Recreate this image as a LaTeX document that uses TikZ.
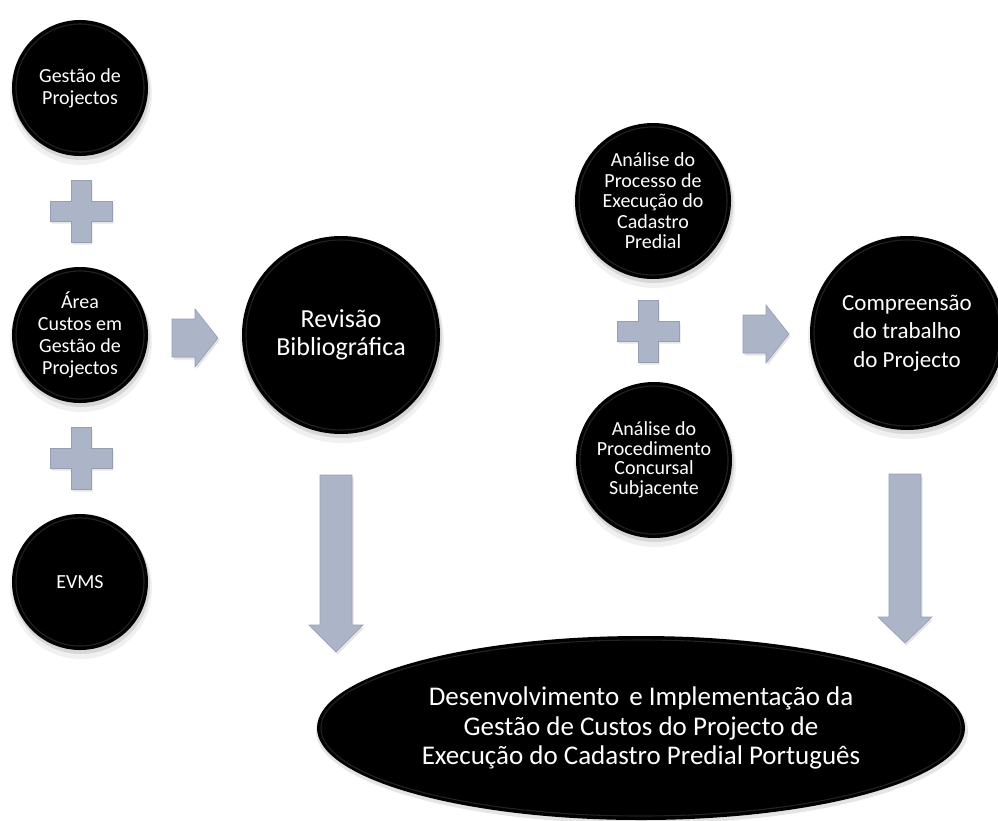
\documentclass[tikz,border=0pt]{standalone}
\usepackage{fontspec}
\setmainfont{Carlito}
\usetikzlibrary{shapes.geometric,calc}

\definecolor{blockfill}{RGB}{172,180,200}
\definecolor{blockedge}{RGB}{150,158,180}
\definecolor{rimgray}{RGB}{78,78,78}

\tikzset{
  bubble/.style={circle, fill=black, text=white, align=center, inner sep=0pt},
  oval/.style={ellipse, fill=black, text=white, align=center, inner sep=0pt},
  rim/.style={draw=rimgray, line width=1.1pt, opacity=0.45},
  block/.style={fill=blockfill, draw=blockedge, line width=0.6pt, line join=miter},
  blockshade/.style={fill=black, opacity=0.10},
}

% glossy black disc: name, centre, radius (pt), font, text
\newcommand\glossy[5]{%
  \fill[black,opacity=0.06] ($#2+(1,6)$) circle [radius=#3pt+3pt];
  \fill[black,opacity=0.10] ($#2+(1,3)$) circle [radius=#3pt+1pt];
  \node[bubble, minimum size=2*#3pt, font={#4}] (#1) at #2 {#5};
  \draw[rim] (#1.center) circle [radius=#3pt-4pt];
}

% plus sign centred at a named coordinate
\newcommand\plussign[1]{%
  \begin{scope}[shift={(#1)}]
    \fill[blockshade,shift={(1.5,2.5)}] (-10,-31) -- (10,-31) -- (10,-10) -- (31,-10) -- (31,10) -- (10,10) -- (10,31) -- (-10,31) -- (-10,10) -- (-31,10) -- (-31,-10) -- (-10,-10) -- cycle;
    \path[block] (-10,-31) -- (10,-31) -- (10,-10) -- (31,-10) -- (31,10) -- (10,10) -- (10,31) -- (-10,31) -- (-10,10) -- (-31,10) -- (-31,-10) -- (-10,-10) -- cycle;
  \end{scope}}

% right-pointing block arrow centred at a named coordinate
\newcommand\rightblock[1]{%
  \begin{scope}[shift={(#1)}]
    \fill[blockshade,shift={(1.5,2.5)}] (-23,-19) -- (0,-19) -- (0,-29) -- (23,0) -- (0,29) -- (0,19) -- (-23,19) -- cycle;
    \path[block] (-23,-19) -- (0,-19) -- (0,-29) -- (23,0) -- (0,29) -- (0,19) -- (-23,19) -- cycle;
  \end{scope}}

% downward block arrow: top-centre coordinate, shaft length, head length
\newcommand\downblock[3]{%
  \begin{scope}[shift={(#1)}]
    \fill[blockshade,shift={(1.5,2.5)}] (-16,0) -- (16,0) -- (16,#2) -- (27,#2) -- (0,#2+#3) -- (-27,#2) -- (-16,#2) -- cycle;
    \path[block] (-16,0) -- (16,0) -- (16,#2) -- (27,#2) -- (0,#2+#3) -- (-27,#2) -- (-16,#2) -- cycle;
  \end{scope}}

\begin{document}
\begin{tikzpicture}[x=1pt,y=-1pt]
  \useasboundingbox (0,0) rectangle (998,820);
  \fill[white] (0,0) rectangle (998,820);

  % anchor points of the block shapes
  \coordinate (plusA) at (81,211);
  \coordinate (plusB) at (81,458);
  \coordinate (plusC) at (648,331);
  \coordinate (arrA) at (195,338);
  \coordinate (arrB) at (766,334);
  \coordinate (downA) at (336,475);
  \coordinate (downB) at (905,474);

  % left column
  \glossy{gestao}{(80,88)}{68}{\fontsize{20}{22}\selectfont}{Gestão de\\Projectos}
  \plussign{plusA}
  \glossy{area}{(80,335)}{68}{\fontsize{20}{22}\selectfont}{Área\\Custos em\\Gestão de\\Projectos}
  \plussign{plusB}
  \glossy{evms}{(80,582)}{68}{\fontsize{20}{22}\selectfont}{EVMS}

  \rightblock{arrA}
  \glossy{revisao}{(341,335)}{99}{\fontsize{26}{27.5}\selectfont}{Revisão\\Bibliográfica}
  \downblock{downA}{150}{27}

  % right group
  \glossy{processo}{(653,201)}{78}{\fontsize{20}{20.5}\selectfont}{Análise do\\Processo de\\Execução do\\Cadastro\\Predial}
  \plussign{plusC}
  \glossy{concurso}{(654,460)}{78}{\fontsize{20}{19.5}\selectfont}{Análise do\\Procedimento\\Concursal\\Subjacente}

  \rightblock{arrB}
  \glossy{compreensao}{(907,333)}{97}{\fontsize{23}{28.5}\selectfont}{Compreensão\\do trabalho\\do Projecto}
  \downblock{downB}{143}{26}

  % final outcome
  \fill[black,opacity=0.10] (642,731) ellipse [x radius=326pt, y radius=93pt];
  \node[oval, minimum width=648pt, minimum height=184pt, font={\fontsize{27}{29.5}\selectfont}] (final) at (641,728)
    {Desenvolvimento\hspace{4pt} e Implementação da\\Gestão de Custos do Projecto de\\Execução do Cadastro Predial Português};
  \draw[rim] (final.center) ellipse [x radius=320pt, y radius=88pt];
\end{tikzpicture}
\end{document}
